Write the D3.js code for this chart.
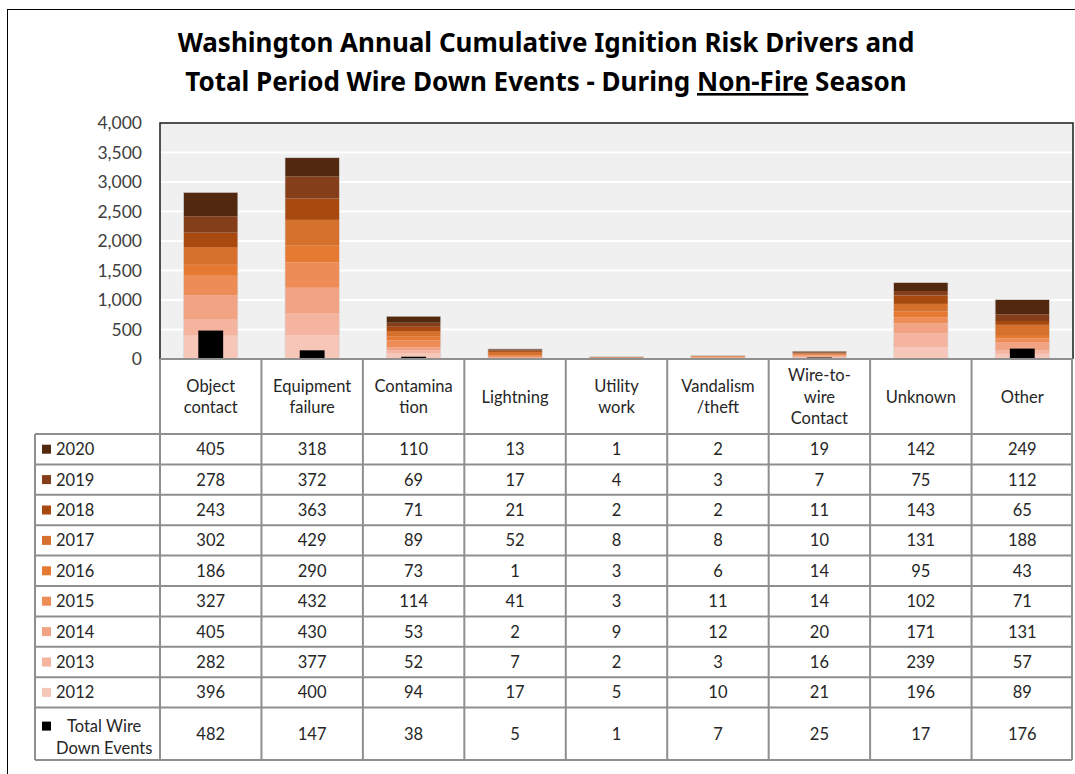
<!DOCTYPE html>
<html>
<head>
<meta charset="utf-8">
<script src="https://cdn.jsdelivr.net/npm/d3@7"></script>
<style>
  body { margin: 0; background: #fff; }
  svg { display: block; font-family: Lato, "Open Sans", sans-serif; }
</style>
</head>
<body>
<div id="chart"></div>
<script>
// categories + header labels (wrapped as in the table)
const categories = ["Object contact", "Equipment failure", "Contamination", "Lightning", "Utility work",
  "Vandalism/theft", "Wire-to-wire Contact", "Unknown", "Other"];
const headerLines = [["Object", "contact"], ["Equipment", "failure"], ["Contamina", "tion"], ["Lightning"],
  ["Utility", "work"], ["Vandalism", "/theft"], ["Wire-to-", "wire", "Contact"], ["Unknown"], ["Other"]];

const years = ["2012", "2013", "2014", "2015", "2016", "2017", "2018", "2019", "2020"];
const v2012 = [396, 400, 94, 17, 5, 10, 21, 196, 89];
const v2013 = [282, 377, 52, 7, 2, 3, 16, 239, 57];
const v2014 = [405, 430, 53, 2, 9, 12, 20, 171, 131];
const v2015 = [327, 432, 114, 41, 3, 11, 14, 102, 71];
const v2016 = [186, 290, 73, 1, 3, 6, 14, 95, 43];
const v2017 = [302, 429, 89, 52, 8, 8, 10, 131, 188];
const v2018 = [243, 363, 71, 21, 2, 2, 11, 143, 65];
const v2019 = [278, 372, 69, 17, 4, 3, 7, 75, 112];
const v2020 = [405, 318, 110, 13, 1, 2, 19, 142, 249];
const wireDown = [482, 147, 38, 5, 1, 7, 25, 17, 176];

const yTicks = [0, 500, 1000, 1500, 2000, 2500, 3000, 3500, 4000];
const yearColors = ["#f6c7b8", "#f4b49f", "#f1a383", "#ee8c58", "#e77a33", "#d6702d", "#a84a10", "#843f1a", "#52290f"];

const seriesByYear = [v2012, v2013, v2014, v2015, v2016, v2017, v2018, v2019, v2020];

const W = 1075, H = 774;
const plot = { left: 160, right: 1073, top: 123, bottom: 359 };
const tableLeft = 35, headerBottom = 434, rowH = 30.4, totalBottom = 760;

const svg = d3.select("#chart").append("svg").attr("width", W).attr("height", H);

// outer frame (runs off the right/bottom of the picture)
svg.append("rect").attr("x", 7.5).attr("y", 9.5).attr("width", 1100).attr("height", 800)
  .attr("fill", "#fff").attr("stroke", "#000").attr("stroke-width", 1);

// title - sized so the lines span roughly 168..925 like the original
const title = svg.append("g").attr("font-weight", 700).attr("fill", "#000").attr("text-anchor", "middle")
  .attr("font-family", "'Noto Sans', 'Open Sans', sans-serif");
const t1 = title.append("text").attr("x", 546).attr("y", 52).attr("font-size", 24)
  .text("Washington Annual Cumulative Ignition Risk Drivers and");
const t2 = title.append("text").attr("x", 546).attr("y", 91).attr("font-size", 24);
t2.append("tspan").text("Total Period Wire Down Events - During ");
t2.append("tspan").attr("text-decoration", "underline").text("Non-Fire");
t2.append("tspan").text(" Season");
[t1, t2].forEach(t => {
  const w = t.node().getComputedTextLength();
  if (w > 0) t.attr("font-size", Math.min(26, 24 * 757 / w));
});

// scales
const rows = categories.map((c, i) => {
  const r = { cat: c };
  years.forEach((y, k) => r[y] = seriesByYear[k][i]);
  r.wire = wireDown[i];
  return r;
});

const x = d3.scaleBand().domain(categories).range([plot.left, plot.right]).paddingInner(0).paddingOuter(0);
const y = d3.scaleLinear().domain([0, 4000]).range([plot.bottom, plot.top]);

// plot background + gridlines
svg.append("rect").attr("x", plot.left).attr("y", plot.top)
  .attr("width", plot.right - plot.left).attr("height", plot.bottom - plot.top).attr("fill", "#f0f0f0");
svg.append("g").selectAll("line").data(yTicks.slice(1, -1)).join("line")
  .attr("x1", plot.left).attr("x2", plot.right)
  .attr("y1", d => y(d)).attr("y2", d => y(d))
  .attr("stroke", "#fff").attr("stroke-width", 2);

// stacked bars
const stack = d3.stack().keys(years)(rows);
const barW = x.bandwidth() * 0.535;
svg.append("g").selectAll("g").data(stack).join("g")
  .attr("fill", (d, i) => yearColors[i])
  .selectAll("rect").data(d => d).join("rect")
  .attr("x", d => x(d.data.cat) + (x.bandwidth() - barW) / 2)
  .attr("width", barW)
  .attr("y", d => y(d[1]))
  .attr("height", d => y(d[0]) - y(d[1]));

// faint outline round each stacked column
svg.append("g").selectAll("rect").data(rows).join("rect")
  .attr("x", d => x(d.cat) + (x.bandwidth() - barW) / 2)
  .attr("width", barW)
  .attr("y", d => y(d3.sum(years, k => d[k])))
  .attr("height", d => y(0) - y(d3.sum(years, k => d[k])))
  .attr("fill", "none").attr("stroke", "#d8d8d8").attr("stroke-width", 0.6);

// total wire down events (narrow overlay)
const wireW = x.bandwidth() * 0.245;
svg.append("g").selectAll("rect").data(rows).join("rect")
  .attr("x", d => x(d.cat) + (x.bandwidth() - wireW) / 2)
  .attr("width", wireW)
  .attr("y", d => y(d.wire))
  .attr("height", d => y(0) - y(d.wire))
  .attr("fill", "#000");

// plot border top/left/right
svg.append("path")
  .attr("d", `M${plot.left},${plot.bottom}V${plot.top}H${plot.right}V${plot.bottom}`)
  .attr("fill", "none").attr("stroke", "#1a1a1a").attr("stroke-width", 1.5);

// y axis
const yAxis = svg.append("g").attr("transform", `translate(${plot.left - 18},0)`)
  .call(d3.axisLeft(y).tickValues(yTicks).tickFormat(d3.format(",")).tickSize(0).tickPadding(0));
yAxis.select(".domain").remove();
yAxis.selectAll("text").attr("font-size", 17.5).attr("fill", "#404040")
  .attr("font-family", "Lato, 'Open Sans', sans-serif");

// data table
const table = svg.append("g");
const gridColor = "#8f8f8f";
const tableRows = [...years].reverse();
const rowTop = i => headerBottom + i * rowH;

// header labels
const hdr = table.append("g").attr("font-size", 16.5).attr("fill", "#262626").attr("text-anchor", "middle");
categories.forEach((c, i) => {
  const lines = headerLines[i];
  const cy = (plot.bottom + headerBottom) / 2;
  const lh = 21.5;
  const t = hdr.append("text").attr("x", x(c) + x.bandwidth() / 2);
  lines.forEach((ln, k) => {
    t.append("tspan").attr("x", x(c) + x.bandwidth() / 2)
      .attr("y", cy + (k - (lines.length - 1) / 2) * lh + 6).text(ln);
  });
});

// value cells
const cells = table.append("g").attr("font-size", 16.5).attr("fill", "#262626").attr("text-anchor", "middle");
tableRows.forEach((yr, r) => {
  const vals = seriesByYear[years.indexOf(yr)];
  categories.forEach((c, i) => {
    cells.append("text").attr("x", x(c) + x.bandwidth() / 2).attr("y", rowTop(r) + rowH / 2 + 6).text(vals[i]);
  });
});
const totalTop = rowTop(tableRows.length);
categories.forEach((c, i) => {
  cells.append("text").attr("x", x(c) + x.bandwidth() / 2).attr("y", (totalTop + totalBottom) / 2 + 6).text(wireDown[i]);
});

// legend cells
const leg = table.append("g").attr("font-size", 16.5).attr("fill", "#262626");
tableRows.forEach((yr, r) => {
  const cy = rowTop(r) + rowH / 2;
  leg.append("rect").attr("x", 42).attr("y", cy - 4.5).attr("width", 9).attr("height", 9)
    .attr("fill", yearColors[years.indexOf(yr)]);
  leg.append("text").attr("x", 56).attr("y", cy + 6).text(yr);
});
leg.append("rect").attr("x", 42).attr("y", totalTop + 14).attr("width", 9).attr("height", 9).attr("fill", "#000");
leg.append("text").attr("x", 67).attr("y", totalTop + 24).text("Total Wire");
leg.append("text").attr("x", 56).attr("y", totalTop + 46).text("Down Events");

// grid lines of the table
const lines = table.append("g").attr("stroke", gridColor).attr("stroke-width", 2).attr("fill", "none");
// horizontal
d3.range(tableRows.length + 1).forEach(r => {
  lines.append("line").attr("x1", tableLeft).attr("x2", plot.right - 1)
    .attr("y1", rowTop(r)).attr("y2", rowTop(r));
});
lines.append("line").attr("x1", tableLeft).attr("x2", plot.right - 1).attr("y1", totalBottom).attr("y2", totalBottom);
// vertical column lines (through header too)
categories.forEach(c => {
  lines.append("line").attr("x1", x(c)).attr("x2", x(c)).attr("y1", plot.bottom).attr("y2", totalBottom);
});
lines.append("line").attr("x1", plot.right - 1).attr("x2", plot.right - 1).attr("y1", plot.bottom).attr("y2", totalBottom);
lines.append("line").attr("x1", tableLeft).attr("x2", tableLeft).attr("y1", headerBottom).attr("y2", totalBottom);
// x axis line
lines.append("line").attr("x1", plot.left).attr("x2", plot.right).attr("y1", plot.bottom).attr("y2", plot.bottom);
</script>
</body>
</html>
